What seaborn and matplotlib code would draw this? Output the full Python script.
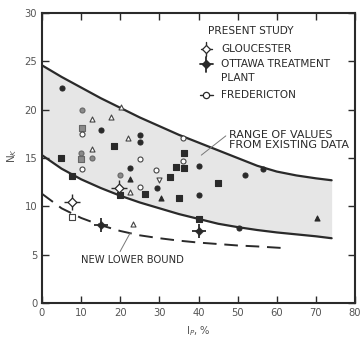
import matplotlib
matplotlib.use("Agg")
import matplotlib.pyplot as plt
import numpy as np
import pandas as pd
import seaborn as sns

# boundary curves
upper_x = [0, 5, 10, 15, 20, 25, 30, 35, 40, 45, 50, 55, 60, 65, 70, 74]
upper_y = [24.6, 23.4, 22.3, 21.2, 20.2, 19.2, 18.3, 17.4, 16.6, 15.8, 15.0, 14.2, 13.6, 13.2, 12.9, 12.7]
lower_x = [0, 5, 10, 15, 20, 25, 30, 35, 40, 45, 50, 55, 60, 65, 70, 74]
lower_y = [15.3, 13.9, 12.8, 11.9, 11.1, 10.4, 9.8, 9.2, 8.7, 8.2, 7.85, 7.55, 7.3, 7.1, 6.9, 6.7]
bound_x = [0, 5, 10, 15, 20, 25, 30, 35, 40, 45, 50, 55, 61]
bound_y = [11.3, 9.8, 8.8, 8.05, 7.45, 7.0, 6.7, 6.45, 6.25, 6.1, 5.95, 5.85, 5.7]

# existing data points, grouped by symbol
filled_circle_x = [5.2, 15.2, 25.0, 25.0, 22.4, 29.4, 40.1, 40.1, 51.9, 56.4, 50.4]
filled_circle_y = [22.2, 17.9, 17.4, 16.7, 14.0, 11.9, 14.2, 11.2, 13.2, 13.9, 7.8]
filled_square_x = [4.9, 18.5, 7.7, 20.0, 36.2, 36.4, 34.2, 32.6, 35.0, 45.0, 40.1, 26.2]
filled_square_y = [15.0, 16.2, 13.1, 11.2, 15.5, 14.0, 14.1, 13.0, 10.9, 12.4, 8.7, 11.3]
gray_circle_x = [10.3, 9.9, 12.7, 20.0]
gray_circle_y = [20.0, 15.5, 15.0, 13.2]
gray_square_x = [10.1, 9.9]
gray_square_y = [18.1, 14.9]
open_circle_x = [10.1, 10.1, 36.0, 36.1, 25.1, 29.1, 25.1]
open_circle_y = [17.5, 13.9, 17.1, 14.7, 14.9, 13.8, 12.0]
open_tri_x = [12.7, 17.6, 20.3, 22.0, 12.9, 22.6, 23.2]
open_tri_y = [19.0, 19.2, 20.3, 17.1, 15.9, 11.5, 8.2]
filled_tri_x = [22.6, 30.5, 70.3]
filled_tri_y = [12.8, 10.9, 8.8]
open_vtri_x = [29.9]
open_vtri_y = [12.7]
open_square_x = [7.6]
open_square_y = [8.9]

# present study
gloucester_x = [7.7, 19.8]
gloucester_y = [10.5, 11.9]
ottawa_x = [15.0, 40.0]
ottawa_y = [8.1, 7.5]

INK = "#2a2a2a"
GRAY = "#555555"

sns.set_theme(style="white")
plt.rcParams["font.family"] = ["DejaVu Sans"]

fig = plt.figure(figsize=(3.62, 3.37), dpi=100)
ax = fig.add_axes([0.116, 0.101, 0.865, 0.86])

# shaded range between the two bounds
ax.fill_between(upper_x, lower_y, upper_y, color="#e6e6e6", linewidth=0, zorder=0)

curves = pd.concat([
    pd.DataFrame({"x": upper_x, "y": upper_y, "curve": "upper"}),
    pd.DataFrame({"x": lower_x, "y": lower_y, "curve": "lower"}),
])
for name, grp in curves.groupby("curve"):
    sns.lineplot(data=grp, x="x", y="y", ax=ax, color=INK, linewidth=1.6,
                 sort=True, estimator=None, zorder=2)
sns.lineplot(x=bound_x, y=bound_y, ax=ax, color=INK, linewidth=1.4,
             estimator=None, zorder=2)
ax.lines[-1].set_dashes([7, 4])

groups = [
    (filled_circle_x, filled_circle_y, "o", INK, INK),
    (filled_square_x, filled_square_y, "s", INK, INK),
    (gray_circle_x, gray_circle_y, "o", "#8a8a8a", "#666666"),
    (gray_square_x, gray_square_y, "s", "#8a8a8a", "#666666"),
    (open_circle_x, open_circle_y, "o", "white", "#444444"),
    (open_tri_x, open_tri_y, "^", "white", "#444444"),
    (filled_tri_x, filled_tri_y, "^", INK, INK),
    (open_vtri_x, open_vtri_y, "v", "white", "#444444"),
    (open_square_x, open_square_y, "s", "white", "#444444"),
]
for gx, gy, m, fc, ec in groups:
    sns.scatterplot(x=gx, y=gy, ax=ax, marker=m, s=13, color=fc,
                    edgecolor=ec, linewidth=0.8, zorder=3)

# present study symbols
sns.scatterplot(x=gloucester_x, y=gloucester_y, ax=ax, marker="+", s=120,
                color=INK, linewidth=1.0, zorder=4)
sns.scatterplot(x=gloucester_x, y=gloucester_y, ax=ax, marker="D", s=20,
                color="white", edgecolor=INK, linewidth=0.9, zorder=5)
sns.scatterplot(x=ottawa_x, y=ottawa_y, ax=ax, marker="+", s=110,
                color=INK, linewidth=1.3, zorder=4)
sns.scatterplot(x=ottawa_x, y=ottawa_y, ax=ax, marker="D", s=18,
                color=INK, edgecolor=INK, zorder=5)

# legend block drawn by hand
LEG_FS = 7.6
ax.text(42.3, 28.2, "PRESENT STUDY", fontsize=LEG_FS, color=INK, va="center")
leg_x = 42.0
for yy, label, kind in [(26.3, "GLOUCESTER", "g"),
                        (24.7, "OTTAWA TREATMENT", "o"),
                        (21.5, "FREDERICTON", "f")]:
    ax.text(45.8, yy, label, fontsize=LEG_FS, color=INK, va="center")
    if kind == "g":
        ax.plot([leg_x - 1.5, leg_x + 1.5], [yy, yy], color=INK, lw=1.0)
        ax.plot([leg_x, leg_x], [yy - 0.7, yy + 0.7], color=INK, lw=1.0)
        ax.plot(leg_x, yy, marker="D", ms=4, mfc="white", mec=INK, mew=0.9)
    elif kind == "o":
        ax.plot([leg_x - 1.6, leg_x + 1.6], [yy, yy], color=INK, lw=1.3)
        ax.plot([leg_x, leg_x], [yy - 0.8, yy + 0.8], color=INK, lw=1.3)
        ax.plot(leg_x, yy, marker="D", ms=3.6, mfc=INK, mec=INK)
    else:
        ax.plot([leg_x - 1.6, leg_x + 1.6], [yy, yy], color=INK, lw=1.0)
        ax.plot(leg_x, yy, marker="o", ms=4.5, mfc="white", mec=INK, mew=0.9)
ax.text(45.8, 23.3, "PLANT", fontsize=LEG_FS, color=INK, va="center")

# annotations
ax.annotate("RANGE OF VALUES\nFROM EXISTING DATA", xy=(40.7, 15.3), xytext=(47.8, 16.85),
            fontsize=8.0, color=INK, linespacing=0.95, va="center",
            arrowprops=dict(arrowstyle="-", color="#777777", lw=0.7,
                            shrinkA=0, shrinkB=0, relpos=(0, 0.85)))
ax.annotate("NEW LOWER BOUND", xy=(22.6, 7.3), xytext=(10.0, 4.45),
            fontsize=7.2, color=INK, va="center",
            arrowprops=dict(arrowstyle="-", color="#777777", lw=0.7,
                            shrinkA=0, shrinkB=0, relpos=(0.36, 1.0)))

ax.set_xlim(0, 80)
ax.set_ylim(0, 30)
ax.set_xticks(range(0, 81, 10))
ax.set_yticks(range(0, 31, 5))
ax.tick_params(direction="in", length=5, width=1.0, colors=INK, labelsize=7.2,
               labelcolor=GRAY, top=True, right=True, bottom=True, left=True)
ax.set_xlabel("I$_P$, %", fontsize=7.2, color=GRAY)
ax.set_ylabel("N$_K$", fontsize=7.5, color=GRAY)
ax.yaxis.set_label_coords(-0.075, 0.51)
ax.xaxis.set_label_coords(0.5, -0.075)
for sp in ax.spines.values():
    sp.set_color(INK)
    sp.set_linewidth(1.5)
ax.set_facecolor("white")
ax.grid(False)

fig.savefig("out.png", dpi=100)
